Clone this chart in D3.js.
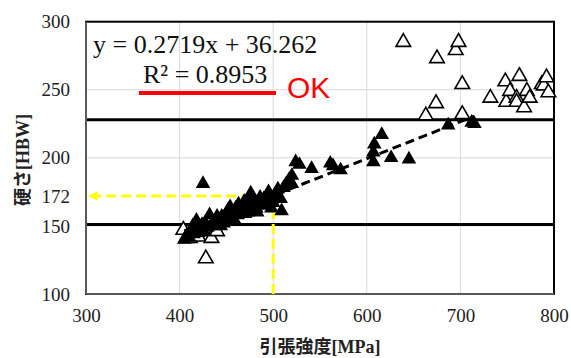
<!DOCTYPE html>
<meta charset="utf-8">
<script src="https://d3js.org/d3.v7.min.js"></script>
<style>
  body { margin: 0; background: #fff; }
  .tick text { font-family: "Liberation Serif", "Times New Roman", serif; font-size: 19px; fill: #222; }
</style>
<div id="chart"></div>
<script>

// data: [tensile MPa, hardness HBW]
var okPoints = [
  [405,140],[408,143],[410,142],[412,146],[414,150],[415,144],[417,147],[418,154],
  [420,145],[422,148],[424,151],[425,146],[427,152],[430,149],[432,158],[434,151],
  [436,153],[438,150],[440,157],[442,154],[445,157],[447,152],[450,159],[452,162],
  [454,164],[455,156],[457,160],[460,163],[462,158],[463,166],[465,160],[467,163],
  [469,168],[470,159],[472,165],[474,168],[476,174],[477,162],[478,166],[480,169],
  [482,163],[484,167],[486,171],[488,165],[490,170],[492,168],[495,175],[497,172],
  [500,167],[502,173],[505,177],[508,170],[509,161],[511,178],[514,181],[517,184],
  [520,181],[520,187],[524,197],[528,195],[541,192],[561,196],[564,194],[572,191],
  [607,197],[607,204],[608,210],[616,217],[626,200],[645,199],[687,224],[712,226],
  [715,225],[425,181],[444,150],[458,155],[473,160],[483,160],[498,163]
];
var ngPoints = [
  [404,147],[407,141],[411,141],[420,142],[425,146],[434,141],[440,146],[428,126],
  [639,285],[663,231],[674,240],[675,273],[695,279],[698,285],[702,254],[702,232],
  [732,244],[748,256],[749,241],[753,249],[760,244],[760,241],[763,260],[768,237],
  [771,249],[774,244],[787,254],[789,253],[792,259],[794,248]
];
var xTicks = [300, 400, 500, 600, 700, 800];
var yTicks = [100, 150, 172, 200, 250, 300];
var yGrid = [150, 200, 250];
var specLines = [151, 228];
var slope = 0.2719, intercept = 36.262;
var trendRange = [405, 715];
var target = [500, 172];

var width = 571, height = 358;

var svg = d3.select("#chart").append("svg")
  .attr("width", width)
  .attr("height", height)
  .style("background", "#fff");

var x = d3.scaleLinear().domain([300, 800]).range([86, 554]);
var y = d3.scaleLinear().domain([100, 300]).range([294, 21.7]);

// gridlines
svg.append("g").selectAll("line")
  .data(xTicks.slice(1, -1))
  .enter().append("line")
  .attr("x1", d => x(d)).attr("x2", d => x(d))
  .attr("y1", y(100)).attr("y2", y(300))
  .attr("stroke", "#d9d9d9").attr("stroke-width", 1);

svg.append("g").selectAll("line")
  .data(yGrid)
  .enter().append("line")
  .attr("x1", x(300)).attr("x2", x(800))
  .attr("y1", d => y(d)).attr("y2", d => y(d))
  .attr("stroke", "#d9d9d9").attr("stroke-width", 1);

// spec limit lines
svg.append("g").selectAll("line")
  .data(specLines)
  .enter().append("line")
  .attr("x1", x(300)).attr("x2", x(800))
  .attr("y1", d => y(d)).attr("y2", d => y(d))
  .attr("stroke", "#000").attr("stroke-width", 3);

// plot border
svg.append("rect")
  .attr("x", x(300)).attr("y", y(300))
  .attr("width", x(800) - x(300)).attr("height", y(100) - y(300))
  .attr("fill", "none").attr("stroke", "#000").attr("stroke-width", 2);
svg.append("line")
  .attr("x1", x(300)).attr("x2", x(300)).attr("y1", y(300)).attr("y2", y(100))
  .attr("stroke", "#595959").attr("stroke-width", 2);
svg.append("line")
  .attr("x1", x(300)).attr("x2", x(800)).attr("y1", y(100)).attr("y2", y(100))
  .attr("stroke", "#595959").attr("stroke-width", 2);

// axes
var xAxis = svg.append("g")
  .attr("transform", "translate(0," + y(100) + ")")
  .call(d3.axisBottom(x).tickValues(xTicks).tickSize(0).tickPadding(15));
xAxis.select(".domain").remove();

var yAxis = svg.append("g")
  .attr("transform", "translate(" + x(300) + ",0)")
  .call(d3.axisLeft(y).tickValues(yTicks).tickSize(0).tickPadding(16));
yAxis.select(".domain").remove();

// yellow target guide
svg.append("defs").append("marker")
  .attr("id", "arrow")
  .attr("viewBox", "0 0 10 10")
  .attr("refX", 10).attr("refY", 5)
  .attr("markerWidth", 3.2).attr("markerHeight", 3.2)
  .attr("orient", "auto")
  .append("path")
  .attr("d", "M0,0L10,5L0,10Z")
  .attr("fill", "#ffff00");

svg.append("path")
  .attr("d", "M" + x(target[0]) + "," + y(100) + "V" + y(target[1]) + "H" + (x(300) + 2))
  .attr("fill", "none")
  .attr("stroke", "#ffff00")
  .attr("stroke-width", 3)
  .attr("stroke-dasharray", "10,5")
  .attr("marker-end", "url(#arrow)");

// markers
var tri = d3.symbol().type(d3.symbolTriangle).size(92);

svg.append("g").selectAll("path")
  .data(ngPoints)
  .enter().append("path")
  .attr("d", tri)
  .attr("transform", d => "translate(" + x(d[0]) + "," + y(d[1]) + ")")
  .attr("fill", "#fff")
  .attr("stroke", "#000")
  .attr("stroke-width", 1.6);

svg.append("g").selectAll("path")
  .data(okPoints)
  .enter().append("path")
  .attr("d", tri)
  .attr("transform", d => "translate(" + x(d[0]) + "," + y(d[1]) + ")")
  .attr("fill", "#000");

// trendline
svg.append("line")
  .attr("x1", x(trendRange[0])).attr("y1", y(slope * trendRange[0] + intercept))
  .attr("x2", x(trendRange[1])).attr("y2", y(slope * trendRange[1] + intercept))
  .attr("stroke", "#000")
  .attr("stroke-width", 3)
  .attr("stroke-dasharray", "9,5");

// equation
svg.append("text")
  .attr("x", 93).attr("y", 53)
  .style("font-family", "'Liberation Serif', serif")
  .style("font-size", "26px")
  .attr("fill", "#111")
  .text("y = 0.2719x + 36.262");

svg.append("text")
  .attr("x", 143).attr("y", 83)
  .style("font-family", "'Liberation Serif', serif")
  .style("font-size", "26px")
  .attr("fill", "#111")
  .text("R² = 0.8953");

svg.append("line")
  .attr("x1", 139).attr("x2", 276).attr("y1", 93).attr("y2", 93)
  .attr("stroke", "#ff0000").attr("stroke-width", 4);

svg.append("text")
  .attr("x", 287).attr("y", 98)
  .style("font-family", "'Liberation Sans', Arial, sans-serif")
  .style("font-size", "30px")
  .attr("fill", "#ff0000")
  .text("OK");

// axis titles
var xt = svg.append("text")
  .attr("x", 320).attr("y", 353)
  .attr("text-anchor", "middle")
  .style("font-size", "18px")
  .style("font-weight", "bold")
  .attr("fill", "#222");
xt.append("tspan").style("font-family", "'Noto Sans CJK JP', sans-serif").text("引張強度");
xt.append("tspan").style("font-family", "'Liberation Serif', serif").text("[MPa]");

var yt = svg.append("text")
  .attr("transform", "translate(29,160) rotate(-90)")
  .attr("text-anchor", "middle")
  .style("font-size", "18px")
  .style("font-weight", "bold")
  .attr("fill", "#222");
yt.append("tspan").style("font-family", "'Noto Sans CJK JP', sans-serif").text("硬さ");
yt.append("tspan").style("font-family", "'Liberation Serif', serif").text("[HBW]");

</script>
